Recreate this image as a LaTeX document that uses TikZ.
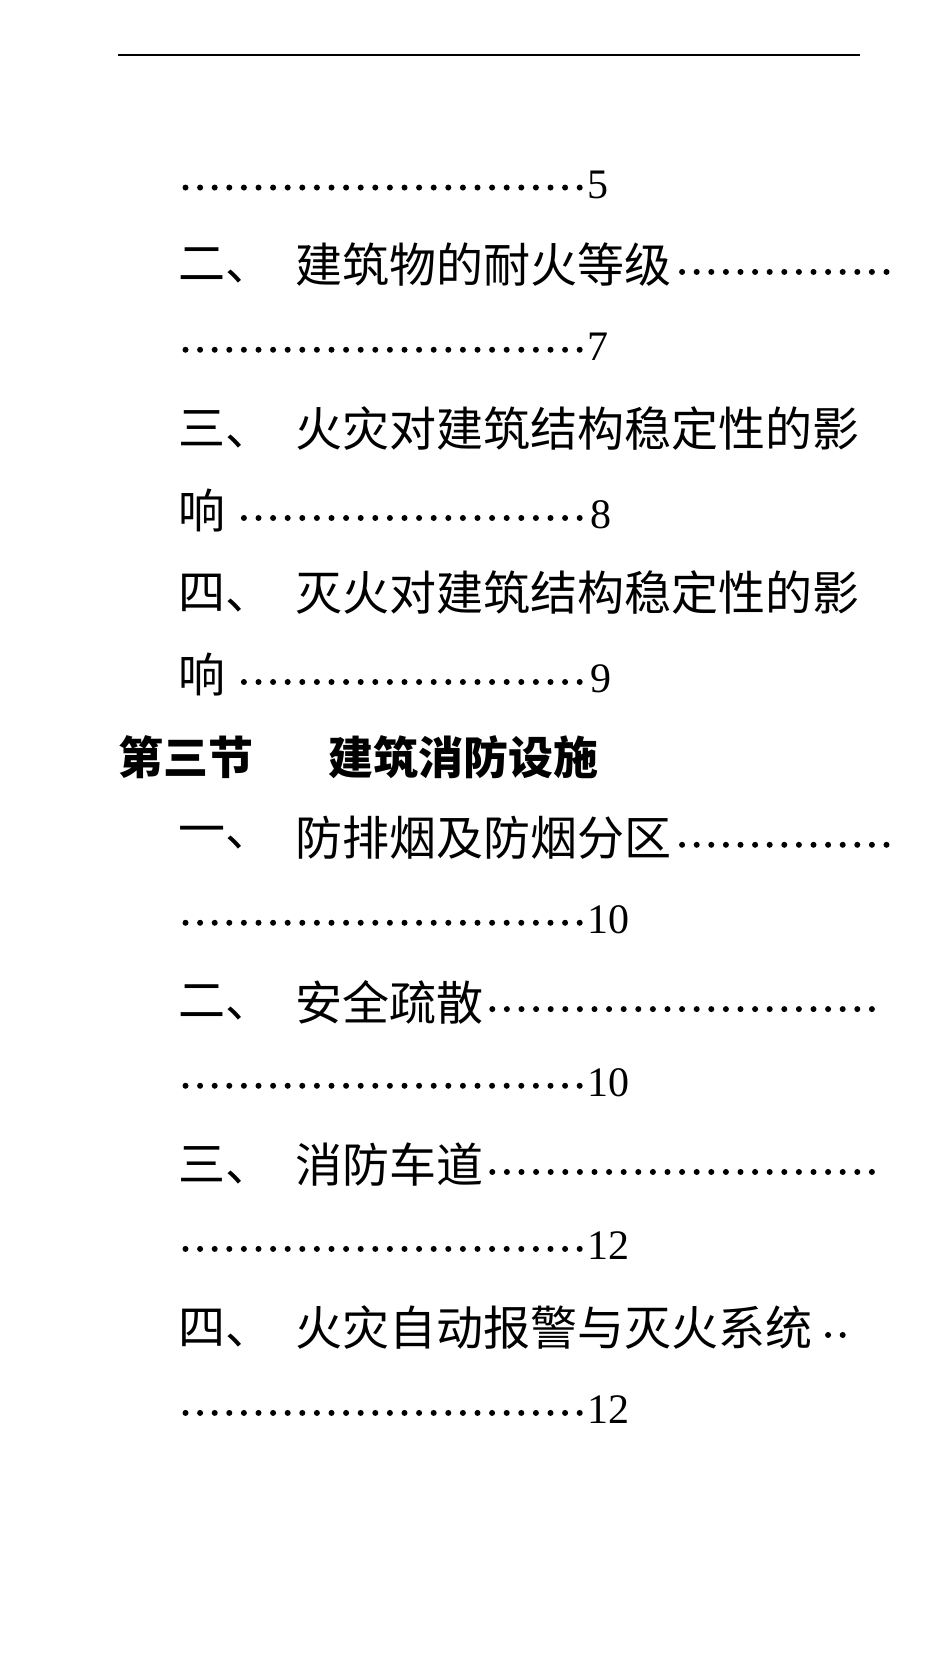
\documentclass[tikz,border=0pt]{standalone}
\usepackage{fontspec}
\setmainfont{Liberation Serif}
\newfontfamily\cjk{Noto Sans CJK SC}
\newcommand{\dotrun}[1]{\leaders\hbox to 14.6pt{\hss\raisebox{8pt}{\tikz\fill (0,0) circle (3pt);}\hss}\hskip #1pt\relax\null}
\begin{document}
\begin{tikzpicture}[x=1pt,y=-1pt,
  t/.style={anchor=west,inner sep=0pt,font=\cjk\fontsize{47}{49}\selectfont},
  h/.style={anchor=west,inner sep=0pt,font=\cjk\bfseries\fontsize{45}{47}\selectfont}]
\useasboundingbox (0,0) rectangle (950,1678);
\draw[line width=2pt] (118,55) -- (860,55);
\node[t] (a1) at (178,185) {\dotrun{409}\rmfamily\fontsize{42}{44}\selectfont 5};
\node[t] (a2n) at (178,265) {二、};
\node[t] (a2) at (295,265) {建筑物的耐火等级\dotrun{235}};
\node[t] (a3) at (178,347) {\dotrun{409}\rmfamily\fontsize{42}{44}\selectfont 7};
\node[t] (a4n) at (178,429) {三、};
\node[t] (a4) at (295,429) {火灾对建筑结构稳定性的影};
\node[t] (a5) at (178,511) {响\dotrun{365}\rmfamily\fontsize{42}{44}\selectfont 8};
\node[t] (a6n) at (178,593) {四、};
\node[t] (a6) at (295,593) {灭火对建筑结构稳定性的影};
\node[t] (a7) at (178,675) {响\dotrun{365}\rmfamily\fontsize{42}{44}\selectfont 9};
\node[h] (s3) at (118,757) {第三节};
\node[h] (s3b) at (328,757) {建筑消防设施};
\node[t] (b1n) at (178,838) {一、};
\node[t] (b1) at (295,838) {防排烟及防烟分区\dotrun{235}};
\node[t] (b2) at (178,920) {\dotrun{409}\rmfamily\fontsize{42}{44}\selectfont 10};
\node[t] (b3n) at (178,1002) {二、};
\node[t] (b3) at (295,1002) {安全疏散\dotrun{400}};
\node[t] (b4) at (178,1083) {\dotrun{409}\rmfamily\fontsize{42}{44}\selectfont 10};
\node[t] (b5n) at (178,1165) {三、};
\node[t] (b5) at (295,1165) {消防车道\dotrun{400}};
\node[t] (b6) at (178,1246) {\dotrun{409}\rmfamily\fontsize{42}{44}\selectfont 12};
\node[t] (b7n) at (178,1328) {四、};
\node[t] (b7) at (295,1328) {火灾自动报警与灭火系统\dotrun{45}};
\node[t] (b8) at (178,1410) {\dotrun{409}\rmfamily\fontsize{42}{44}\selectfont 12};
\end{tikzpicture}
\end{document}
